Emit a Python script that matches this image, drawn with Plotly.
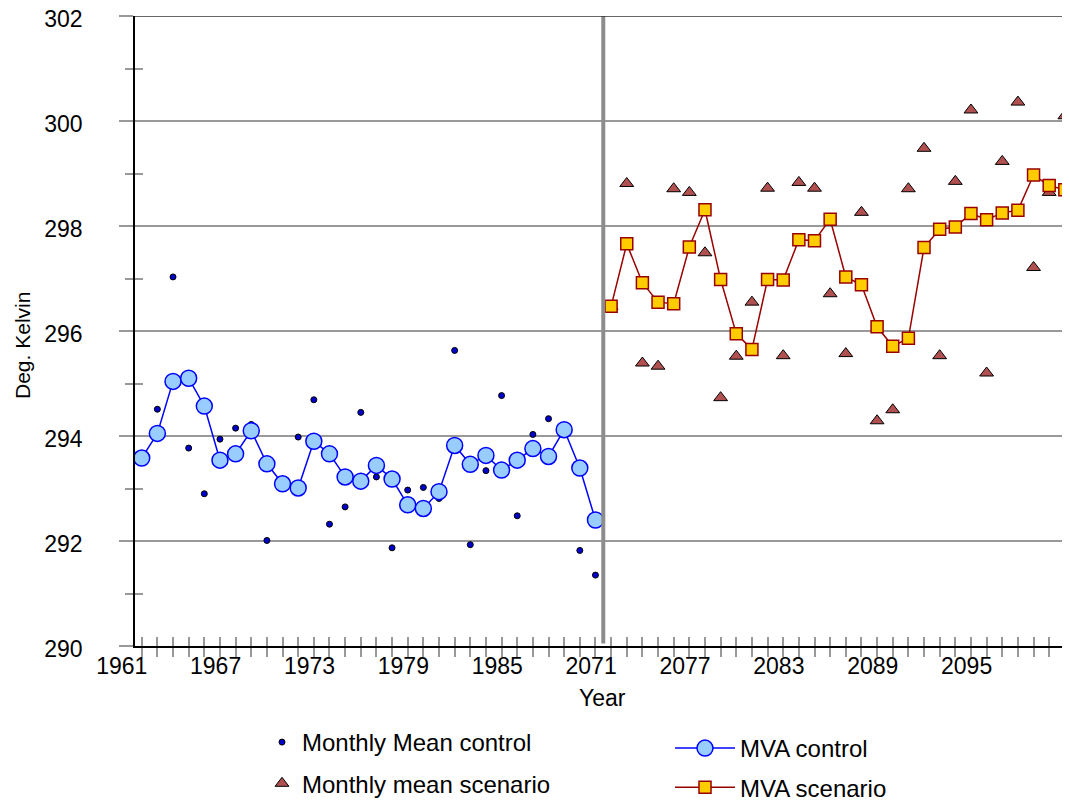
import plotly.graph_objects as go

# ---- data ----
years_control = list(range(1961, 1991))
years_scenario = list(range(2071, 2101))
label_years = [1961, 1967, 1973, 1979, 1985, 2071, 2077, 2083, 2089, 2095]

monthly_control = [293.58, 294.51, 297.03, 293.77, 292.90, 293.94, 294.15, 294.22, 292.01, 293.04,
                   293.98, 294.69, 292.32, 292.65, 294.45, 293.22, 291.87, 292.97, 293.02, 292.81,
                   295.63, 291.93, 293.34, 294.77, 292.48, 294.03, 294.33, 294.05, 291.82, 291.35]
mva_control = [293.58, 294.05, 295.04, 295.10, 294.57, 293.54, 293.66, 294.10, 293.47, 293.09,
               293.01, 293.90, 293.66, 293.22, 293.14, 293.44, 293.18, 292.69, 292.62, 292.94,
               293.82, 293.46, 293.63, 293.35, 293.54, 293.76, 293.61, 294.12, 293.39, 292.40]
monthly_scenario = [296.47, 298.81, 295.39, 295.33, 298.71, 298.64, 297.49, 294.73, 295.52, 296.55,
                    298.72, 295.53, 298.83, 298.72, 296.71, 295.57, 298.26, 294.29, 294.50, 298.71,
                    299.48, 295.53, 298.85, 300.21, 295.20, 299.23, 300.36, 297.21, 298.64, 300.10]
mva_scenario = [296.47, 297.66, 296.92, 296.55, 296.52, 297.60, 298.31, 296.98, 295.95, 295.65,
                296.98, 296.97, 297.74, 297.72, 298.13, 297.03, 296.88, 296.08, 295.71, 295.86,
                297.59, 297.94, 297.98, 298.24, 298.12, 298.25, 298.30, 298.97, 298.77, 298.69]

all_years = years_control + years_scenario
pos = {y: i for i, y in enumerate(all_years)}
xc = [pos[y] for y in years_control]
xs = [pos[y] for y in years_scenario]
tickvals = [pos[y] for y in all_years]
ticktext = [str(y) if y in label_years else "" for y in all_years]
divider = (pos[years_control[-1]] + pos[years_scenario[0]]) / 2

FONT = "Liberation Sans, Arial, sans-serif"
GRID = "#999999"
W, H = 1070, 802
OFF = 8  # page body margin offset

fig = go.Figure()

fig.add_trace(go.Scatter(
    x=xc, y=monthly_control, mode="markers", name="Monthly Mean control",
    marker=dict(symbol="circle", size=6, color="#0000CC", line=dict(color="#000000", width=1)),
    legend="legend", legendgroup="a", cliponaxis=True))
fig.add_trace(go.Scatter(
    x=xs, y=monthly_scenario, mode="markers", name="Monthly mean scenario",
    marker=dict(symbol="triangle-up", size=12, color="#B05050", line=dict(color="#000000", width=1)),
    legend="legend", legendgroup="b", cliponaxis=True))
fig.add_trace(go.Scatter(
    x=xc, y=mva_control, mode="lines+markers", name="MVA control",
    line=dict(color="#0000FF", width=1.5),
    marker=dict(symbol="circle", size=16, color="#99CCFF", line=dict(color="#0000FF", width=1.5)),
    legend="legend2", legendgroup="c", cliponaxis=True))
fig.add_trace(go.Scatter(
    x=xs, y=mva_scenario, mode="lines+markers", name="MVA scenario",
    line=dict(color="#990000", width=1.5),
    marker=dict(symbol="square", size=12, color="#FFCC00", line=dict(color="#990000", width=1.5)),
    legend="legend2", legendgroup="d", cliponaxis=True))

# invisible trace to activate overlay axes (cross ticks)
fig.add_trace(go.Scatter(x=[tickvals[0]], y=[290], xaxis="x2", yaxis="y2", mode="markers",
                         marker=dict(opacity=0), showlegend=False, hoverinfo="skip"))

xr = [-0.43, 59.33]
yr = [290, 302]

fig.update_layout(
    width=W, height=H,
    margin=dict(l=135 - OFF, r=OFF, t=16 - OFF, b=H - (646 - OFF), autoexpand=False),
    paper_bgcolor="white", plot_bgcolor="white",
    font=dict(family=FONT, color="#000000"),
    showlegend=True,
    xaxis=dict(
        range=xr, tickmode="array", tickvals=tickvals, ticktext=ticktext,
        ticks="outside", ticklen=9, tickcolor=GRID, tickwidth=1.5,
        showline=True, linecolor="#000000", linewidth=1.5,
        showgrid=False, zeroline=False, automargin=False,
        tickfont=dict(size=23, family=FONT), ticklabelshift=-20, ticklabelstandoff=-10,
        ticklabeloverflow="allow",
    ),
    xaxis2=dict(
        range=xr, overlaying="x", anchor="y", side="bottom",
        tickmode="array", tickvals=tickvals, ticktext=[""] * len(tickvals),
        ticks="inside", ticklen=9, tickcolor=GRID, tickwidth=1.5, automargin=False,
        showline=False, showgrid=False, zeroline=False, showticklabels=False,
    ),
    yaxis=dict(
        range=yr, dtick=2, tick0=290, automargin=False,
        ticks="outside", ticklen=14, tickcolor=GRID, tickwidth=1.5,
        minor=dict(dtick=1, ticks="outside", ticklen=8, tickcolor=GRID, tickwidth=1.5, showgrid=False),
        showline=True, linecolor="#000000", linewidth=1.5,
        showgrid=True, gridcolor=GRID, gridwidth=1.5, zeroline=False,
        tickfont=dict(size=23, family=FONT), ticklabelstandoff=32, ticklabelshift=3,
        ticklabeloverflow="allow",
    ),
    yaxis2=dict(
        range=yr, overlaying="y", anchor="x", side="left", automargin=False,
        dtick=2, tick0=290,
        ticks="inside", ticklen=14, tickcolor=GRID, tickwidth=1.5,
        minor=dict(dtick=1, ticks="inside", ticklen=8, tickcolor=GRID, tickwidth=1.5, showgrid=False),
        showline=False, showgrid=False, zeroline=False, showticklabels=False,
    ),
    legend=dict(
        xref="container", yref="container", x=(262 - OFF) / W, y=1 - (720 - OFF) / H,
        xanchor="left", yanchor="top", orientation="v",
        font=dict(size=24, family=FONT), bgcolor="rgba(0,0,0,0)",
        tracegroupgap=7, itemsizing="trace",
    ),
    legend2=dict(
        xref="container", yref="container", x=(670 - OFF) / W, y=1 - (726 - OFF) / H,
        xanchor="left", yanchor="top", orientation="v",
        font=dict(size=24, family=FONT), bgcolor="rgba(0,0,0,0)",
        tracegroupgap=5, itemsizing="trace", itemwidth=60,
    ),
    annotations=[
        dict(text="Deg. Kelvin", xref="paper", yref="paper", x=0, y=0.5,
             xshift=-(135 - 22), yshift=-15, textangle=-90, showarrow=False,
             xanchor="center", yanchor="middle", font=dict(size=21, family=FONT)),
        dict(text="Year", xref="paper", yref="paper", x=0.5, y=0,
             yshift=-(698 - 646), showarrow=False,
             xanchor="center", yanchor="middle", font=dict(size=23, family=FONT)),
    ],
    shapes=[
        dict(type="line", xref="x", yref="y", x0=divider, x1=divider, y0=290.05, y1=302,
             line=dict(color="#8c8c8c", width=4), layer="above"),
        dict(type="line", xref="paper", yref="y", x0=0, x1=1, y0=302, y1=302,
             line=dict(color="#333333", width=1.5), layer="above"),
    ],
)

fig.write_html("out.html")
